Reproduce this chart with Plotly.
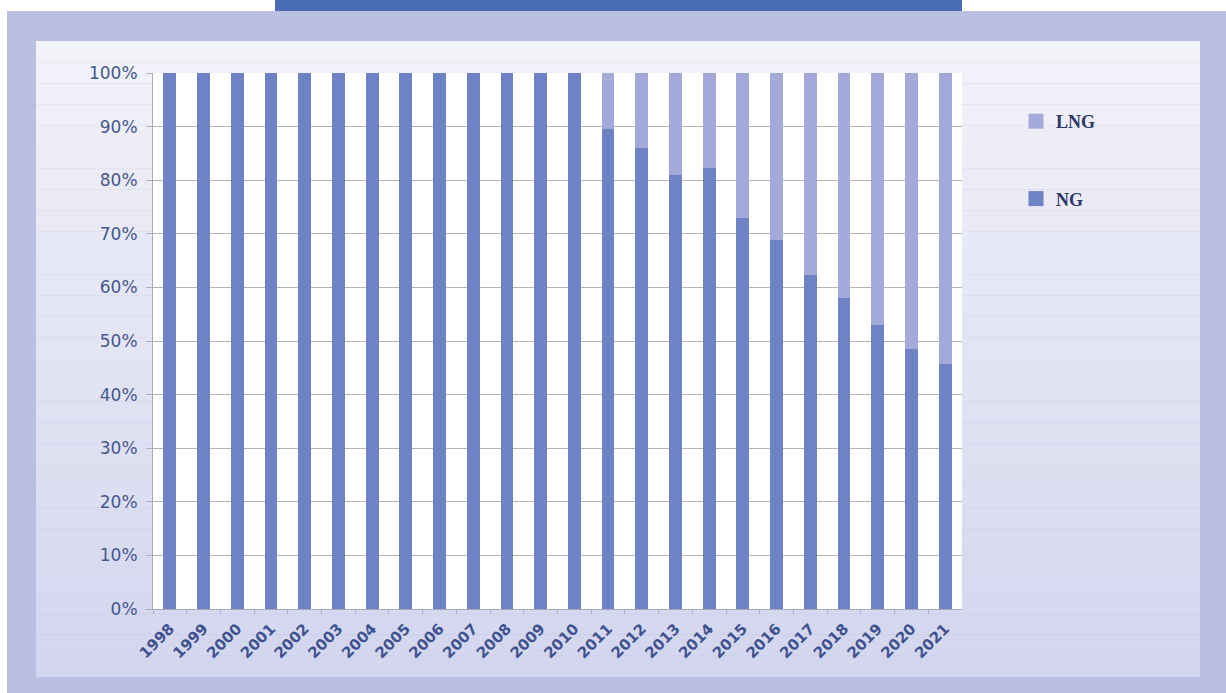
import plotly.graph_objects as go

years = [str(y) for y in range(1998, 2022)]
ng_share = [100, 100, 100, 100, 100, 100, 100, 100, 100, 100, 100, 100, 100,
            89.6, 86.1, 81.0, 82.3, 73.0, 68.8, 62.3, 58.1, 53.0, 48.6, 45.8]
lng_share = [round(100 - v, 1) for v in ng_share]
y_ticks = list(range(0, 101, 10))
y_tick_labels = [f"{v}%" for v in y_ticks]

W, H = 1226, 693
NG_COLOR = "#6e83c5"
LNG_COLOR = "#a3aad9"

# plot area in pixels
px_l, px_r, px_t, px_b = 153, 962, 73, 609

fig = go.Figure()
fig.add_trace(go.Bar(x=years, y=ng_share, name="NG", marker_color=NG_COLOR,
                     marker_line_width=0, showlegend=False))
fig.add_trace(go.Bar(x=years, y=lng_share, name="LNG", marker_color=LNG_COLOR,
                     marker_line_width=0, showlegend=False))

# legend entries with larger square swatches
fig.add_trace(go.Scatter(x=[None], y=[None], mode="markers", name="LNG",
                         marker=dict(symbol="square", size=15, color=LNG_COLOR),
                         legendgroup="lng", legendrank=1, hoverinfo="skip"))
fig.add_trace(go.Scatter(x=[None], y=[None], mode="markers", name="NG",
                         marker=dict(symbol="square", size=15, color=NG_COLOR),
                         legendgroup="ng", legendrank=2, hoverinfo="skip"))

shapes = []
# white strips on top and at the left edge, with the dark blue band
shapes.append(dict(type="rect", xref="paper", yref="paper", x0=0, x1=1,
                   y0=1 - 11 / H, y1=1, fillcolor="#ffffff", line_width=0, layer="below"))
shapes.append(dict(type="rect", xref="paper", yref="paper", x0=275 / W, x1=962 / W,
                   y0=1 - 11 / H, y1=1, fillcolor="#4a6cb7", line_width=0, layer="below"))
shapes.append(dict(type="rect", xref="paper", yref="paper", x0=-0.01, x1=7 / W,
                   y0=-0.01, y1=1, fillcolor="#ffffff", line_width=0, layer="below"))

# inner panel with a soft vertical gradient
top_c = (242, 242, 249)
bot_c = (211, 214, 238)
p_top, p_bot, p_l, p_r = 41, 677, 36, 1200
n = 30
for i in range(n):
    t = i / (n - 1)
    c = tuple(int(round(top_c[k] + (bot_c[k] - top_c[k]) * t)) for k in range(3))
    y0 = p_top + (p_bot - p_top) * i / n
    y1 = p_top + (p_bot - p_top) * (i + 1) / n
    shapes.append(dict(type="rect", xref="paper", yref="paper",
                       x0=p_l / W, x1=p_r / W, y0=1 - y1 / H, y1=1 - y0 / H,
                       fillcolor="rgb(%d,%d,%d)" % c, line_width=0, layer="below"))

# white plotting background
shapes.append(dict(type="rect", xref="paper", yref="paper",
                   x0=px_l / W, x1=px_r / W, y0=1 - px_b / H, y1=1 - px_t / H,
                   fillcolor="#ffffff", line_width=0, layer="below"))

fig.update_layout(
    width=W, height=H,
    margin=dict(l=0, r=0, t=0, b=0, autoexpand=False),
    paper_bgcolor="#b9c0e2",
    plot_bgcolor="rgba(0,0,0,0)",
    barmode="stack",
    bargap=0.62,
    shapes=shapes,
    showlegend=True,
    legend=dict(x=1016 / W, y=1 - 103 / H, xanchor="left", yanchor="top",
                traceorder="grouped", tracegroupgap=51,
                bgcolor="rgba(0,0,0,0)",
                font=dict(family="Liberation Serif", size=18, color="#2c3768",
                          weight="bold"),
                itemwidth=30),
    xaxis=dict(domain=[px_l / W, px_r / W], type="category",
               tickangle=-45, showgrid=False, automargin=False,
               showline=True, linecolor="#a9a9b3", linewidth=1,
               ticks="outside", ticklen=4, tickcolor="#b0b0b8",
               tickson="boundaries", ticklabelstandoff=4,
               tickfont=dict(family="DejaVu Sans", size=15, color="#3f5290",
                             weight="bold")),
    yaxis=dict(domain=[1 - px_b / H, 1 - px_t / H], range=[0, 100],
               tickvals=y_ticks, ticktext=y_tick_labels, automargin=False,
               showgrid=True, gridcolor="#bab2a6", gridwidth=1,
               showline=True, linecolor="#a9a9b3", linewidth=1,
               ticks="outside", ticklen=6, tickcolor="#b0b0b8",
               ticklabelstandoff=5,
               zeroline=False,
               tickfont=dict(family="DejaVu Sans", size=17, color="#45578f")),
)

fig.write_html("out.html")
